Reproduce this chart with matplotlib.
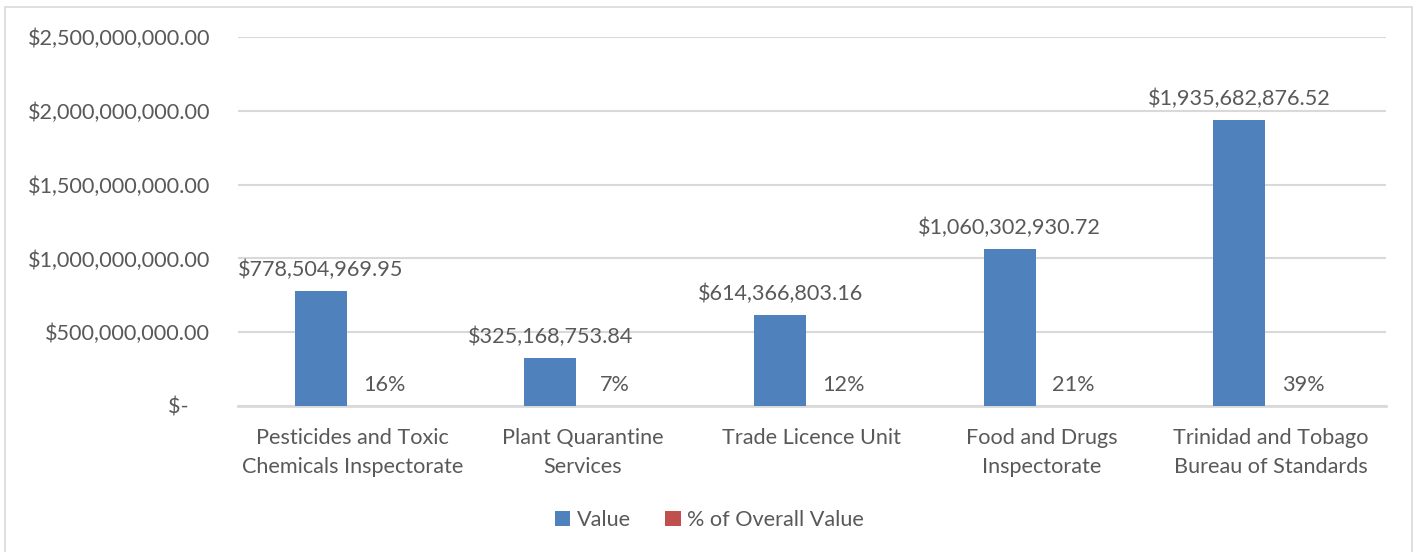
import matplotlib.pyplot as plt
import numpy as np
from matplotlib.patches import Rectangle

plt.rcParams['font.family'] = ['Lato', 'DejaVu Sans']

categories = ["Pesticides and Toxic\nChemicals Inspectorate", "Plant Quarantine\nServices",
              "Trade Licence Unit", "Food and Drugs\nInspectorate",
              "Trinidad and Tobago\nBureau of Standards"]
values = [778504969.95, 325168753.84, 614366803.16, 1060302930.72, 1935682876.52]
shares = [0.16, 0.07, 0.12, 0.21, 0.39]
yticks = [0, 500e6, 1000e6, 1500e6, 2000e6, 2500e6]

blue = '#4F81BD'
red = '#C0504D'
txt = '#595959'
grid = '#D9D9D9'
fs = 15.6

fig = plt.figure(figsize=(14.19, 5.52), dpi=100)
ax = fig.add_axes([238/1419, 1 - 406/552, (1386-238)/1419, (406-37)/552])

x = np.arange(len(categories))
w = 0.2265
off = 0.139
b1 = ax.bar(x - off, values, w, color=blue, label='Value', zorder=3)
b2 = ax.bar(x + off, shares, w, color=red, label='% of Overall Value', zorder=3)

# labels above the bars
for xi, v in zip(x, values):
    ax.annotate(f"${v:,.2f}", (xi - off, v), xytext=(0, 8), textcoords='offset points',
                ha='center', va='bottom', fontsize=fs, color=txt)
for xi, v in zip(x, shares):
    ax.annotate(f"{v:.0%}", (xi + off, v), xytext=(0, 8), textcoords='offset points',
                ha='center', va='bottom', fontsize=fs, color=txt)

ax.set_xlim(-0.5, len(categories) - 0.5)
ax.set_ylim(0, 2.5e9)
ax.set_yticks(yticks)
# accounting format: zero shown as "$-" with trailing space
ax.set_yticklabels(['$-    '] + [f"${t:,.2f}" for t in yticks[1:]])
ax.set_xticks(x)
ax.set_xticklabels(categories, linespacing=1.55)
ax.tick_params(axis='both', length=0, labelsize=fs, labelcolor=txt)
ax.tick_params(axis='y', pad=20)
ax.tick_params(axis='x', pad=16)
ax.grid(axis='y', color=grid, linewidth=1.5, zorder=0)
for s in ['top', 'right', 'left']:
    ax.spines[s].set_visible(False)
ax.spines['bottom'].set_color(grid)
ax.spines['bottom'].set_linewidth(2)

fig.legend(handles=[b1, b2], loc='center', bbox_to_anchor=(0.5, 1 - 520/552), ncol=2,
           frameon=False, fontsize=fs, labelcolor=txt, handlelength=0.7, handleheight=0.7,
           handletextpad=0.3, columnspacing=1.6)

fig.patches.append(Rectangle((5/1419, -0.01), 1407/1419, 1 - 7/552 + 0.01, transform=fig.transFigure,
                             fill=False, edgecolor='#D9D9D9', linewidth=1.2))

fig.savefig('out.png', dpi=100)
